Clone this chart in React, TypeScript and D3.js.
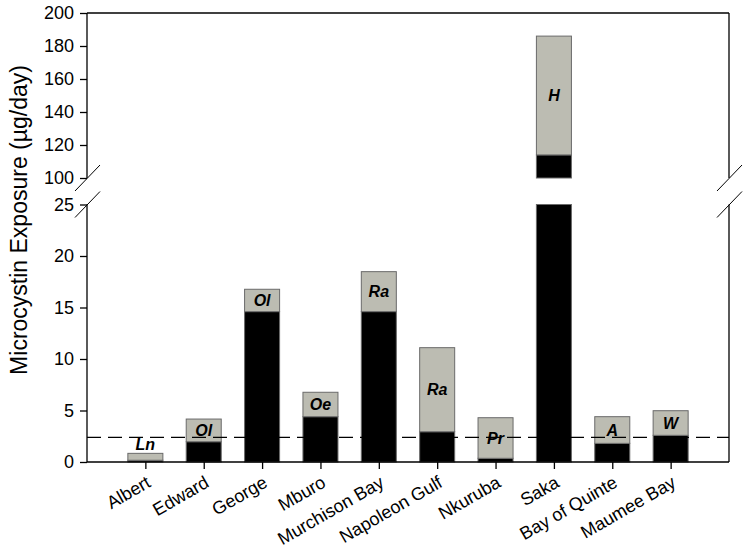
import React, { useEffect, useRef } from 'react';
import * as d3 from 'd3';

// lakes along the x axis
const categories = ['Albert', 'Edward', 'George', 'Mburo', 'Murchison Bay', 'Napoleon Gulf', 'Nkuruba', 'Saka', 'Bay of Quinte', 'Maumee Bay'];
// black part of each bar (µg/day)
const blackValues = [0.17, 1.97, 14.6, 4.4, 14.6, 2.94, 0.36, 114, 1.81, 2.59];
// top of the grey part (total)
const totalValues = [0.84, 4.17, 16.77, 6.77, 18.48, 11.1, 4.3, 186, 4.4, 4.98];
// species codes written in the grey part
const barLabels = ['Ln', 'Ol', 'Ol', 'Oe', 'Ra', 'Ra', 'Pr', 'H', 'A', 'W'];
const lowerTicks = [0, 5, 10, 15, 20, 25];
const upperTicks = [100, 120, 140, 160, 180, 200];
const threshold = 2.4;

const FONT = "Arial, 'Liberation Sans', sans-serif";

const App = () => {
  const ref = useRef<SVGSVGElement>(null);

  useEffect(() => {
    const svg = d3.select(ref.current);
    svg.selectAll('*').remove();

    const left = 87, right = 729, bottom = 462, top = 13;
    const breakLow = 204.5, breakHigh = 178;

    const x = d3.scalePoint().domain(categories).range([left, right]).padding(1);
    const barW = x.step() * 0.6;
    const yLow = d3.scaleLinear().domain([0, 25]).range([bottom, breakLow]);
    const yHigh = d3.scaleLinear().domain([100, 200]).range([breakHigh, top]);

    // split a value range over the two panels
    const pieces = (a: number, b: number) => {
      const out: [number, number][] = [];
      const la = Math.max(a, 0), lb = Math.min(b, 25);
      if (lb > la) out.push([yLow(la), yLow(lb)]);
      const ua = Math.max(a, 100), ub = Math.min(b, 200);
      if (ub > ua) out.push([yHigh(ua), yHigh(ub)]);
      return out;
    };

    const g = svg.append('g');

    categories.forEach((c, i) => {
      const cx = x(c) as number;
      const segs = [
        { a: 0, b: blackValues[i], fill: '#000000' },
        { a: blackValues[i], b: totalValues[i], fill: '#bcbcb2' },
      ];
      segs.forEach((s) => {
        pieces(s.a, s.b).forEach(([y0, y1]) => {
          g.append('rect')
            .attr('x', cx - barW / 2)
            .attr('y', y1)
            .attr('width', barW)
            .attr('height', y0 - y1)
            .attr('fill', s.fill)
            .attr('stroke', '#6a6a6a')
            .attr('stroke-width', 1);
        });
      });
      // label position: middle of grey part, or above the bar if it is too thin
      const gp = pieces(blackValues[i], totalValues[i]);
      const y0 = d3.max(gp, (p) => p[0]) as number;
      const y1 = d3.min(gp, (p) => p[1]) as number;
      const ly = y0 - y1 > 16 ? (y0 + y1) / 2 + 5.5 : y1 - 3;
      g.append('text')
        .attr('x', cx)
        .attr('y', ly)
        .attr('text-anchor', 'middle')
        .attr('font-family', FONT)
        .attr('font-size', 16)
        .attr('font-weight', 'bold')
        .attr('font-style', 'italic')
        .text(barLabels[i]);
    });

    // dashed threshold line
    g.append('line')
      .attr('x1', left).attr('x2', right)
      .attr('y1', yLow(threshold)).attr('y2', yLow(threshold))
      .attr('stroke', '#000').attr('stroke-width', 1.3)
      .attr('stroke-dasharray', '14,7');

    // frame with break
    const frame = g.append('g').attr('stroke', '#000').attr('stroke-width', 1.3).attr('fill', 'none');
    frame.append('line').attr('x1', left).attr('x2', right).attr('y1', top).attr('y2', top);
    frame.append('line').attr('x1', left).attr('x2', right).attr('y1', bottom).attr('y2', bottom);
    [left, right].forEach((ax) => {
      frame.append('line').attr('x1', ax).attr('x2', ax).attr('y1', top).attr('y2', breakHigh);
      frame.append('line').attr('x1', ax).attr('x2', ax).attr('y1', breakLow).attr('y2', bottom);
      [breakHigh, breakLow].forEach((by) => {
        frame.append('line')
          .attr('x1', ax - 12).attr('y1', by + 13)
          .attr('x2', ax + 13).attr('y2', by - 13)
          .attr('stroke-width', 1);
      });
    });

    // y axes
    const styleAxis = (sel: any) => {
      sel.select('.domain').remove();
      sel.selectAll('line').attr('stroke', '#000').attr('stroke-width', 1.3);
      sel.selectAll('text').attr('font-family', FONT).attr('font-size', 18).attr('fill', '#000');
    };
    g.append('g').attr('transform', `translate(${left},0)`)
      .call(d3.axisLeft(yLow).tickValues(lowerTicks).tickSize(7).tickPadding(6))
      .call(styleAxis);
    g.append('g').attr('transform', `translate(${left},0)`)
      .call(d3.axisLeft(yHigh).tickValues(upperTicks).tickSize(7).tickPadding(6))
      .call(styleAxis);

    // x axis
    const xa = g.append('g').attr('transform', `translate(0,${bottom})`)
      .call(d3.axisBottom(x).tickSize(7).tickPadding(6));
    xa.select('.domain').remove();
    xa.selectAll('line').attr('stroke', '#000').attr('stroke-width', 1.3);
    xa.selectAll('text')
      .attr('font-family', FONT).attr('font-size', 18).attr('fill', '#000')
      .attr('text-anchor', 'end')
      .attr('dy', null)
      .attr('y', null)
      .attr('transform', 'translate(6,24) rotate(-30)');

    // y title
    g.append('text')
      .attr('transform', `translate(27,220) rotate(-90)`)
      .attr('text-anchor', 'middle')
      .attr('font-family', FONT)
      .attr('font-size', 23)
      .text('Microcystin Exposure (µg/day)');
  }, []);

  return (
    <svg ref={ref} width={751} height={551} style={{ position: 'absolute', left: 0, top: 0, background: '#fff' }} />
  );
};

export default App;
